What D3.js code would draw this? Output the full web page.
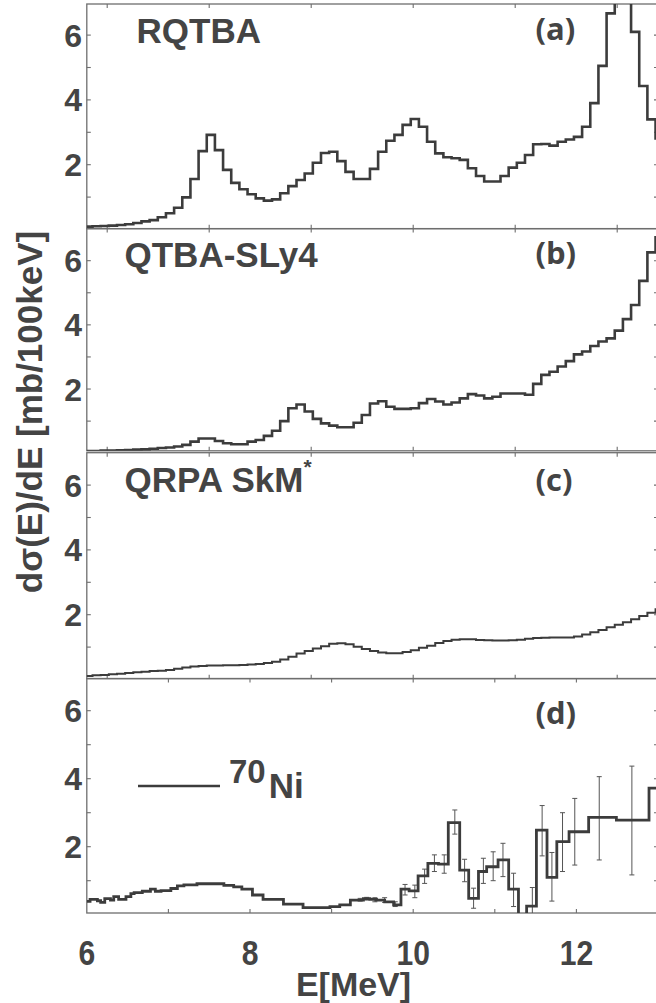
<!DOCTYPE html>
<html>
<head>
<meta charset="utf-8">
<script src="https://cdn.jsdelivr.net/npm/d3@7"></script>
<style>
  html, body { margin: 0; padding: 0; background: #fff; }
  svg { display: block; }
</style>
</head>
<body>
<svg id="chart" width="656" height="1003"></svg>
<script>
// ---- data -----------------------------------------------------------
// calculated strength functions on a 100 keV grid (lower bin edges)
const binWidth = 0.1;
const binLow = d3.range(71).map(i => +(5.97 + i * binWidth).toFixed(2));

// dσ/dE [mb/100keV] per bin
const rqtba = [
  0.09, 0.10, 0.11, 0.12, 0.14, 0.16, 0.20, 0.25, 0.29, 0.38,
  0.50, 0.67, 0.99, 1.56, 2.42, 2.92, 2.45, 1.84, 1.44, 1.24,
  1.09, 0.96, 0.89, 0.93, 1.12, 1.34, 1.53, 1.73, 2.06, 2.36,
  2.40, 2.11, 1.78, 1.56, 1.56, 1.87, 2.40, 2.74, 2.92, 3.23,
  3.41, 3.17, 2.71, 2.35, 2.23, 2.20, 2.15, 1.89, 1.65, 1.48,
  1.48, 1.65, 1.91, 2.06, 2.30, 2.63, 2.64, 2.59, 2.71, 2.78,
  2.86, 3.17, 3.90, 5.05, 6.67, 7.60, 7.40, 6.10, 4.43, 3.40,
  2.81
];
const qtbaSly4 = [
  0.07, 0.07, 0.08, 0.08, 0.09, 0.10, 0.11, 0.12, 0.14, 0.16,
  0.18, 0.21, 0.26, 0.36, 0.46, 0.46, 0.38, 0.31, 0.28, 0.28,
  0.36, 0.41, 0.54, 0.70, 1.00, 1.40, 1.52, 1.30, 1.07, 0.93,
  0.86, 0.81, 0.81, 0.95, 1.19, 1.55, 1.62, 1.45, 1.38, 1.38,
  1.40, 1.56, 1.69, 1.61, 1.52, 1.58, 1.71, 1.84, 1.80, 1.71,
  1.76, 1.86, 1.86, 1.86, 1.82, 2.16, 2.44, 2.54, 2.70, 2.87,
  3.08, 3.17, 3.34, 3.48, 3.58, 3.82, 4.18, 4.62, 5.37, 6.26,
  6.73
];
const qrpaSkm = [
  0.11, 0.13, 0.14, 0.16, 0.18, 0.20, 0.22, 0.24, 0.26, 0.27,
  0.29, 0.33, 0.37, 0.40, 0.42, 0.43, 0.43, 0.44, 0.44, 0.45,
  0.46, 0.48, 0.51, 0.55, 0.62, 0.70, 0.80, 0.88, 0.96, 1.03,
  1.10, 1.12, 1.09, 1.01, 0.94, 0.88, 0.83, 0.81, 0.81, 0.85,
  0.90, 0.98, 1.04, 1.13, 1.19, 1.23, 1.24, 1.24, 1.22, 1.21,
  1.20, 1.20, 1.21, 1.23, 1.26, 1.28, 1.29, 1.30, 1.30, 1.30,
  1.33, 1.39, 1.46, 1.53, 1.61, 1.69, 1.77, 1.86, 1.96, 2.06,
  2.17
];

// measured 70Ni spectrum: variable bin edges [MeV] and contents
const expEdges = [
  6.00, 6.04, 6.13, 6.17, 6.22, 6.29, 6.33, 6.39, 6.48, 6.54,
  6.58, 6.68, 6.78, 6.84, 6.91, 7.03, 7.11, 7.19, 7.35, 7.68,
  7.80, 7.90, 8.03, 8.16, 8.41, 8.65, 8.98, 9.10, 9.23, 9.31,
  9.39, 9.47, 9.55, 9.65, 9.76, 9.85, 9.95, 10.06, 10.18, 10.31,
  10.43, 10.57, 10.68, 10.80, 10.90, 11.04, 11.17, 11.29, 11.39, 11.51,
  11.64, 11.76, 11.91, 12.15, 12.49, 12.89, 13.10
];
const expValues = [
  0.39, 0.45, 0.41, 0.36, 0.47, 0.43, 0.53, 0.45, 0.53, 0.62,
  0.65, 0.69, 0.75, 0.69, 0.71, 0.77, 0.85, 0.88, 0.91, 0.86,
  0.82, 0.75, 0.58, 0.45, 0.31, 0.21, 0.24, 0.29, 0.43, 0.43,
  0.47, 0.45, 0.43, 0.38, 0.29, 0.75, 0.70, 1.14, 1.51, 1.49,
  2.71, 1.31, 0.48, 1.27, 1.41, 1.61, 0.75, 0.00, 0.25, 2.49,
  1.10, 2.15, 2.44, 2.86, 2.78, 3.72
];
// statistical uncertainties of the measured points
const errEnergy = [9.35, 9.43, 9.53, 9.65, 9.78, 9.90, 10.02, 10.14, 10.26, 10.38,
                   10.51, 10.63, 10.74, 10.86, 10.98, 11.10, 11.23, 11.46, 11.58, 11.70,
                   11.83, 11.98, 12.28, 12.68];
const errLow  = [0.40, 0.43, 0.38, 0.36, 0.24, 0.58, 0.50, 0.92, 1.27, 1.22,
                 2.37, 0.97, 0.19, 0.92, 1.00, 1.12, 0.24, 0.00, 1.73, 0.40,
                 1.27, 1.46, 1.61, 1.17];
const errHigh = [0.48, 0.51, 0.50, 0.50, 0.38, 0.89, 0.87, 1.34, 1.76, 1.76,
                 3.08, 1.63, 0.78, 1.66, 1.85, 2.10, 1.22, 0.80, 3.21, 1.83,
                 3.00, 3.42, 4.06, 4.37];

// axis ticks and labels
const theoryXTicks = [6.25, 7.5, 8.75, 10, 11.25, 12.5];
const expXTicks = [7, 8, 9, 10, 11, 12];
const yTicks = [1, 2, 3, 4, 5, 6];
const yTickLabels = [2, 4, 6];
const xTickLabels = [6, 8, 10, 12];
const panelTitles = ["RQTBA", "QTBA-SLy4", "QRPA SkM", ""];
const panelTags = ["(a)", "(b)", "(c)", "(d)"];

// ---- layout -----------------------------------------------------------
const INK = "#444444";
const LINE = "#3c3c3c";
const FRAME = "#6e6e6e";
const FONT = "'Liberation Sans', Arial, Helvetica, sans-serif";
const TAGFONT = "'Open Sans', 'Liberation Sans', sans-serif";

const svg = d3.select("#chart");
const x = d3.scaleLinear().domain([6, 13]).range([86.8, 658]);
const xL = x.range()[0], xR = x.range()[1];

const panels = [
  { top: 4.0,   bottom: 228.7, y0: 229.5, y7: 2.7,   xticks: theoryXTicks, values: rqtba,    width: 2.6, tagY: 40,  titleY: 43 },
  { top: 228.6, bottom: 450.8, y0: 453.2, y7: 228.6, xticks: theoryXTicks, values: qtbaSly4, width: 2.6, tagY: 264, titleY: 267 },
  { top: 452.7, bottom: 678.7, y0: 679.5, y7: 452.7, xticks: theoryXTicks, values: qrpaSkm,  width: 2.0, tagY: 491, titleY: 492 },
  { top: 678.5, bottom: 913.0, y0: 914.7, y7: 676.7, xticks: expXTicks,    values: null,     width: 2.8, tagY: 724, titleY: 0 }
];

const defs = svg.append("defs");

panels.forEach((p, i) => {
  const y = d3.scaleLinear().domain([0, 7]).range([p.y0, p.y7]);
  const g = svg.append("g").attr("class", "panel");

  defs.append("clipPath").attr("id", "clip" + i)
    .append("rect")
    .attr("x", xL).attr("y", p.top)
    .attr("width", xR - xL).attr("height", p.bottom - p.top);

  // frame
  g.append("rect")
    .attr("x", xL).attr("y", p.top)
    .attr("width", xR - xL).attr("height", p.bottom - p.top)
    .attr("fill", "none").attr("stroke", FRAME).attr("stroke-width", 1.3);

  // inward ticks
  const tk = g.append("g").attr("stroke", FRAME).attr("stroke-width", 1.1);
  p.xticks.forEach(t => {
    tk.append("line").attr("x1", x(t)).attr("x2", x(t)).attr("y1", p.top).attr("y2", p.top + 4);
    tk.append("line").attr("x1", x(t)).attr("x2", x(t)).attr("y1", p.bottom).attr("y2", p.bottom - 4);
  });
  yTicks.forEach(t => {
    tk.append("line").attr("x1", xL).attr("x2", xL + 4).attr("y1", y(t)).attr("y2", y(t));
    tk.append("line").attr("x1", xR).attr("x2", xR - 4).attr("y1", y(t)).attr("y2", y(t));
  });

  // y tick labels
  g.selectAll("text.ylab").data(yTickLabels).enter().append("text")
    .attr("class", "ylab")
    .attr("x", 82).attr("y", d => y(d)).attr("dy", "0.36em")
    .attr("text-anchor", "end")
    .attr("font-family", FONT).attr("font-weight", "bold").attr("font-size", 32)
    .attr("fill", INK).text(d => d);

  const plot = g.append("g").attr("clip-path", `url(#clip${i})`);
  const step = d3.line().x(d => x(d[0])).y(d => y(d[1])).curve(d3.curveStepAfter);

  if (p.values) {
    const pts = binLow.map((e, k) => [e, p.values[k]]);
    pts.push([binLow[binLow.length - 1] + binWidth, p.values[p.values.length - 1]]);
    plot.append("path").attr("d", step(pts))
      .attr("fill", "none").attr("stroke", LINE).attr("stroke-width", p.width)
      .attr("stroke-linejoin", "miter");
  } else {
    // error bars
    const eb = plot.append("g").attr("stroke", "#555").attr("stroke-width", 1);
    errEnergy.forEach((e, k) => {
      const cx = x(e), y1 = y(errLow[k]), y2 = y(errHigh[k]);
      eb.append("line").attr("x1", cx).attr("x2", cx).attr("y1", y1).attr("y2", y2);
      eb.append("line").attr("x1", cx - 2.5).attr("x2", cx + 2.5).attr("y1", y1).attr("y2", y1);
      eb.append("line").attr("x1", cx - 2.5).attr("x2", cx + 2.5).attr("y1", y2).attr("y2", y2);
    });
    const pts = expValues.map((v, k) => [expEdges[k], v]);
    pts.push([expEdges[expEdges.length - 1], expValues[expValues.length - 1]]);
    plot.append("path").attr("d", step(pts))
      .attr("fill", "none").attr("stroke", LINE).attr("stroke-width", p.width)
      .attr("stroke-linejoin", "miter");
  }

  // panel title and tag
  if (panelTitles[i]) {
    const t = g.append("text")
      .attr("x", i === 0 ? 136.5 : 124.5).attr("y", p.titleY)
      .attr("font-family", FONT).attr("font-weight", "bold").attr("font-size", 35)
      .attr("fill", INK).text(panelTitles[i]);
    if (i === 2) {
      t.append("tspan").attr("font-size", 21).attr("dy", -18).text("*");
    }
  }
  g.append("text")
    .attr("x", 535.5).attr("y", p.tagY)
    .attr("font-family", TAGFONT).attr("font-weight", "bold").attr("font-size", 31)
    .attr("fill", INK).text(panelTags[i]);
});

// legend of the measured spectrum
const legendY = 786;
svg.append("line").attr("x1", 138).attr("x2", 220).attr("y1", legendY).attr("y2", legendY)
  .attr("stroke", LINE).attr("stroke-width", 2.3);
const leg = svg.append("text").attr("x", 229).attr("y", 783)
  .attr("font-family", FONT).attr("font-weight", "bold").attr("font-size", 33).attr("fill", INK);
leg.append("tspan").text("70");
leg.append("tspan").attr("font-size", 35).attr("dy", 15).attr("dx", 3).text("Ni");

// x tick labels (slightly condensed) and axis titles
svg.selectAll("text.xlab").data(xTickLabels).enter().append("text")
  .attr("class", "xlab")
  .attr("transform", d => `translate(${x(d)},965) scale(0.86,1)`)
  .attr("text-anchor", "middle")
  .attr("font-family", FONT).attr("font-weight", "bold").attr("font-size", 35)
  .attr("fill", INK).text(d => d);

svg.append("text").attr("x", 353.5).attr("y", 996)
  .attr("text-anchor", "middle")
  .attr("font-family", FONT).attr("font-weight", "bold").attr("font-size", 34)
  .attr("fill", INK).text("E[MeV]");

svg.append("text")
  .attr("transform", "translate(42,412) rotate(-90)")
  .attr("text-anchor", "middle")
  .attr("font-family", FONT).attr("font-weight", "bold").attr("font-size", 35)
  .attr("fill", INK).text("dσ(E)/dE [mb/100keV]");
</script>
</body>
</html>
